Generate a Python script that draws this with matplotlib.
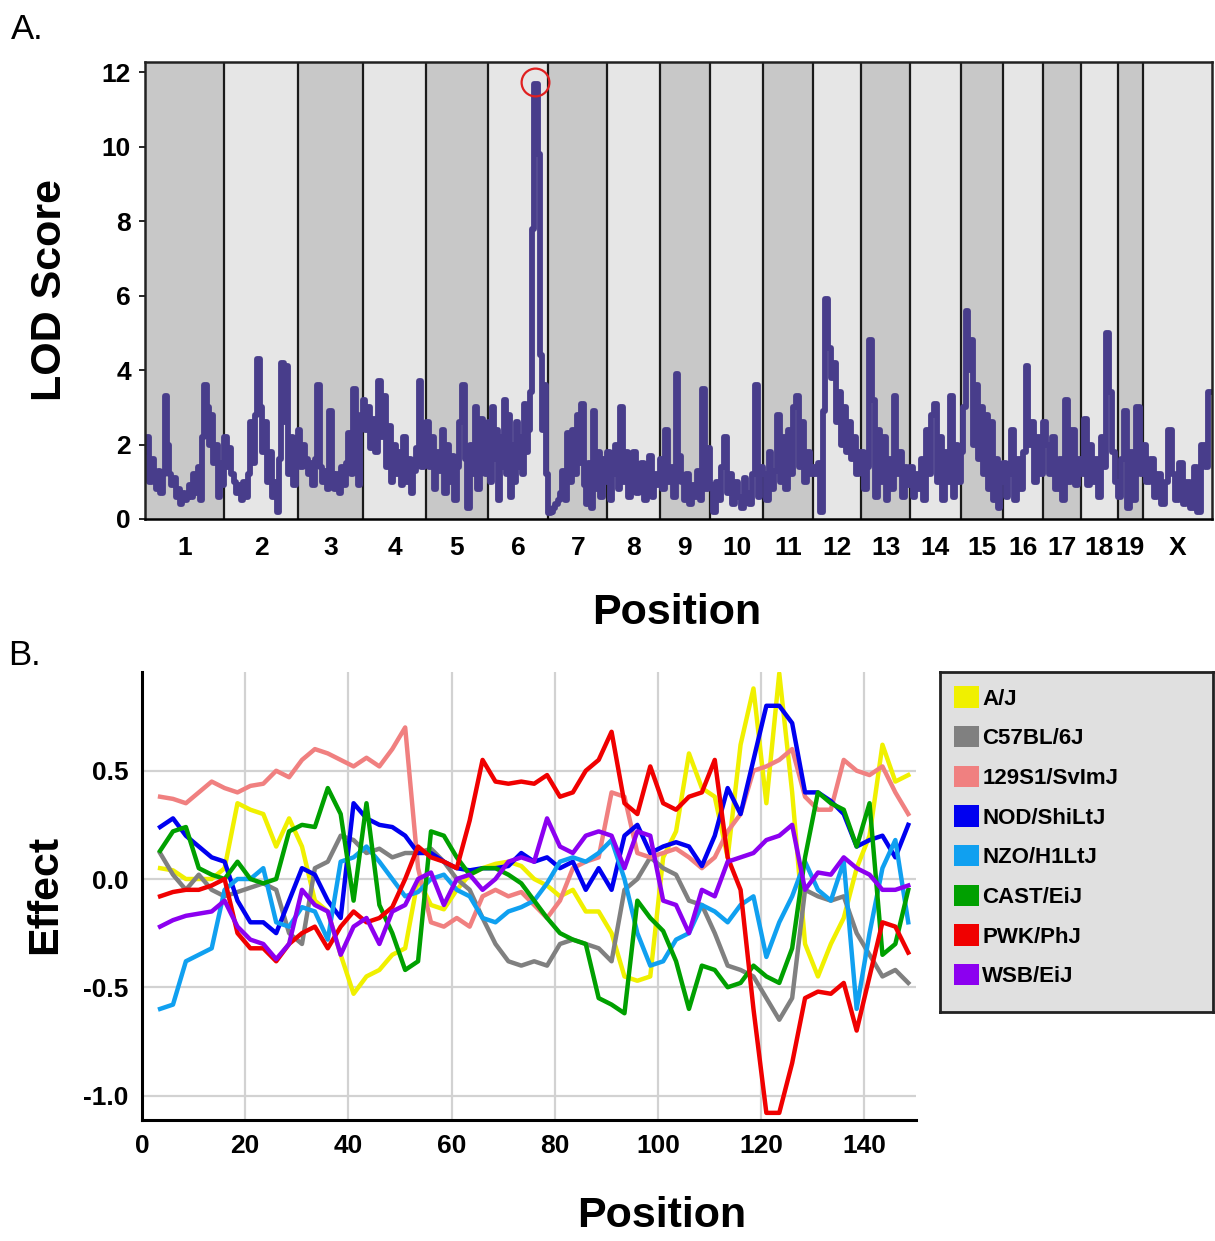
import numpy as np
import matplotlib
matplotlib.use("Agg")
import matplotlib.pyplot as plt
from matplotlib.patches import Patch

plt.rcParams['font.family'] = ['Liberation Sans', 'DejaVu Sans']

# ---- panel A: genome scan ----
chrom_names = ["1", "2", "3", "4", "5", "6", "7", "8", "9", "10",
               "11", "12", "13", "14", "15", "16", "17", "18", "19", "X"]
# chromosome lengths (Mb)
chrom_len = [195.5, 182.1, 160.0, 156.5, 151.8, 149.7, 145.4, 129.4, 124.6, 130.7,
             122.1, 120.1, 120.4, 124.9, 104.0, 98.2, 95.0, 90.7, 61.4, 171.0]

# LOD values along each chromosome
lod = [
    [1.8, 2.2, 1.0, 1.6, 1.2, 0.8, 1.3, 0.7, 1.2, 3.3, 2.0, 1.2, 0.9, 1.1, 0.6, 0.8, 0.4, 0.7,
     0.5, 0.6, 0.9, 0.6, 1.2, 0.7, 1.4, 0.5, 2.2, 3.6, 3.0, 2.0, 2.8, 1.5, 2.0, 0.6, 1.5, 0.9],
    [2.2, 1.4, 1.9, 1.2, 1.0, 0.7, 0.9, 0.5, 1.0, 0.6, 1.2, 2.6, 1.5, 2.8, 4.3, 3.0, 1.8, 2.6,
     1.0, 1.8, 0.6, 1.0, 0.2, 1.6, 4.2, 2.6, 4.1, 1.2, 2.2, 0.9, 1.6],
    [2.4, 1.4, 2.0, 1.6, 1.2, 1.5, 0.9, 1.6, 3.6, 1.4, 1.0, 1.3, 0.8, 2.9, 1.2, 0.8, 1.2, 0.7,
     1.4, 0.9, 1.5, 2.3, 1.2, 3.5, 2.0, 0.9, 2.8],
    [3.2, 2.4, 3.0, 1.9, 2.7, 1.8, 3.7, 2.2, 3.3, 1.4, 2.5, 1.0, 2.0, 1.2, 1.8, 0.9, 2.2, 1.0,
     1.6, 0.7, 1.3, 1.9, 3.7, 1.4, 2.0],
    [2.6, 1.4, 2.2, 0.8, 1.8, 1.3, 2.4, 0.7, 2.0, 1.0, 1.7, 0.5, 1.4, 2.6, 3.6, 1.6, 0.3, 2.0,
     1.2, 3.0, 0.8, 2.7, 1.5, 1.2],
    [2.6, 1.0, 3.0, 1.6, 2.4, 0.5, 2.2, 1.4, 3.2, 1.2, 2.8, 0.6, 2.0, 1.0, 2.6, 1.4, 2.2, 1.2,
     3.1, 1.8, 2.4, 3.4, 7.8, 11.7, 11.7, 9.8, 4.4, 2.4, 3.6, 1.2],
    [0.15, 0.2, 0.3, 0.4, 0.5, 0.7, 1.3, 0.5, 2.3, 1.0, 2.4, 1.2, 2.8, 1.5, 3.1, 0.9, 0.4, 1.5,
     0.3, 2.9, 0.8, 1.8, 0.6, 1.6, 1.0],
    [1.8, 0.5, 1.2, 2.0, 0.8, 3.0, 1.0, 1.8, 0.6, 1.2, 1.8, 0.7, 1.0, 1.5, 0.5, 1.3, 1.7, 0.6,
     1.2, 0.9],
    [1.6, 0.8, 2.4, 1.0, 1.4, 0.6, 3.9, 1.7, 1.0, 0.5, 1.2, 0.4, 0.9, 0.6, 1.3, 0.5, 3.5, 0.8, 1.9],
    [0.9, 0.2, 1.0, 0.5, 1.4, 2.2, 0.7, 1.2, 0.4, 1.0, 0.6, 0.3, 1.1, 0.7, 0.4, 1.2, 3.6, 0.6, 1.4],
    [1.2, 0.5, 1.8, 0.8, 1.3, 2.8, 1.0, 2.2, 0.8, 2.4, 1.2, 3.0, 3.3, 1.4, 2.6, 1.0, 1.8, 1.2],
    [1.4, 1.2, 1.5, 0.2, 2.9, 5.9, 4.6, 3.8, 4.2, 2.6, 3.4, 2.0, 3.0, 1.8, 2.6, 1.6, 2.2, 1.2, 1.8],
    [1.8, 0.8, 1.4, 4.8, 3.2, 0.6, 2.4, 1.0, 2.2, 0.5, 1.6, 0.8, 3.3, 1.2, 1.8, 0.6, 1.4, 0.9],
    [1.4, 0.6, 1.2, 0.8, 1.6, 0.5, 2.4, 1.2, 2.8, 3.1, 1.0, 2.2, 0.5, 1.8, 1.0, 3.3, 0.6, 2.0, 1.0],
    [1.8, 3.0, 5.6, 4.0, 4.8, 2.0, 3.6, 1.6, 3.0, 1.2, 2.8, 0.8, 2.6, 0.5, 1.6, 0.3, 1.0],
    [1.5, 0.6, 1.2, 2.4, 0.5, 1.6, 0.8, 1.8, 4.1, 2.0, 2.6, 1.0, 2.2, 1.2],
    [2.6, 2.0, 1.2, 2.2, 0.8, 1.6, 0.5, 3.2, 1.0, 2.4, 0.9, 1.6],
    [1.2, 2.7, 0.9, 2.0, 1.0, 1.6, 0.6, 2.2, 1.4, 5.0, 3.4, 1.8, 1.0],
    [0.6, 1.6, 2.9, 0.3, 1.8, 0.5, 3.0, 1.2],
    [2.0, 1.0, 1.6, 0.6, 1.2, 0.4, 1.0, 2.4, 1.2, 0.5, 1.5, 0.4, 1.0, 0.3, 1.4, 0.2, 2.0, 1.4, 3.4],
]

# ---- panel B: founder effects on chr 6 ----
pos_b = np.linspace(3.5, 148.5, 59)
strains = ["A/J", "C57BL/6J", "129S1/SvImJ", "NOD/ShiLtJ",
           "NZO/H1LtJ", "CAST/EiJ", "PWK/PhJ", "WSB/EiJ"]
strain_colors = ["#f0f000", "#808080", "#f08080", "#0000f0",
                 "#10a0f0", "#00a000", "#f00000", "#8c00f0"]

eff_aj = [0.05, 0.04, 0.00, 0.00, 0.00, 0.05, 0.35, 0.32, 0.30, 0.15, 0.28, 0.15, -0.10, -0.15,
          -0.35, -0.53, -0.45, -0.42, -0.35, -0.32, 0.00, -0.12, -0.14, -0.05, 0.02, 0.05, 0.07,
          0.08, 0.06, 0.00, -0.03, -0.08, -0.05, -0.15, -0.15, -0.25, -0.45, -0.47, -0.45, 0.10,
          0.22, 0.58, 0.42, 0.38, 0.10, 0.62, 0.88, 0.35, 0.95, 0.40, -0.30, -0.45, -0.30, -0.18,
          0.05, 0.20, 0.62, 0.45, 0.48]
eff_b6 = [0.12, 0.02, -0.05, 0.02, -0.05, -0.08, -0.06, -0.04, -0.02, -0.05, -0.25, -0.30, 0.05,
          0.08, 0.20, 0.18, 0.12, 0.14, 0.10, 0.12, 0.12, 0.14, 0.08, 0.00, -0.05, -0.18, -0.30,
          -0.38, -0.40, -0.38, -0.40, -0.30, -0.28, -0.30, -0.32, -0.38, -0.05, 0.00, 0.10, 0.05,
          0.02, -0.10, -0.12, -0.25, -0.40, -0.42, -0.45, -0.55, -0.65, -0.55, -0.05, -0.08, -0.10,
          -0.08, -0.25, -0.35, -0.45, -0.42, -0.48]
eff_129 = [0.38, 0.37, 0.35, 0.40, 0.45, 0.42, 0.40, 0.43, 0.44, 0.50, 0.47, 0.55, 0.60, 0.58,
           0.55, 0.52, 0.56, 0.52, 0.60, 0.70, 0.05, -0.20, -0.22, -0.18, -0.22, -0.08, -0.05,
           -0.08, -0.06, -0.12, -0.18, -0.10, 0.05, 0.08, 0.10, 0.40, 0.38, 0.12, 0.10, 0.12, 0.14,
           0.10, 0.05, 0.10, 0.22, 0.30, 0.50, 0.52, 0.55, 0.60, 0.38, 0.32, 0.32, 0.55, 0.50, 0.48,
           0.52, 0.40, 0.30]
eff_nod = [0.24, 0.28, 0.20, 0.15, 0.10, 0.08, -0.10, -0.20, -0.20, -0.25, -0.10, 0.05, 0.02,
           -0.10, -0.18, 0.35, 0.28, 0.25, 0.24, 0.20, 0.12, 0.12, 0.08, 0.05, 0.04, 0.05, 0.05,
           0.06, 0.12, 0.08, 0.10, 0.05, 0.08, -0.05, 0.05, -0.05, 0.20, 0.25, 0.12, 0.15, 0.17,
           0.15, 0.06, 0.20, 0.42, 0.30, 0.55, 0.80, 0.80, 0.72, 0.40, 0.40, 0.36, 0.30, 0.15, 0.18,
           0.20, 0.10, 0.25]
eff_nzo = [-0.60, -0.58, -0.38, -0.35, -0.32, -0.05, 0.00, 0.00, 0.05, -0.20, -0.22, -0.13, -0.15,
           -0.28, 0.08, 0.10, 0.15, 0.08, 0.00, -0.08, -0.06, 0.00, 0.02, -0.05, -0.08, -0.18,
           -0.20, -0.15, -0.13, -0.10, -0.02, 0.08, 0.10, 0.08, 0.12, 0.18, 0.00, -0.25, -0.40,
           -0.38, -0.28, -0.25, -0.12, -0.15, -0.20, -0.12, -0.08, -0.36, -0.20, -0.08, 0.08, -0.05,
           -0.10, 0.08, -0.60, -0.25, 0.05, 0.18, -0.20]
eff_cast = [0.13, 0.22, 0.24, 0.05, 0.02, 0.00, 0.08, 0.00, -0.02, 0.00, 0.22, 0.25, 0.24, 0.42,
            0.30, -0.10, 0.35, -0.12, -0.25, -0.42, -0.38, 0.22, 0.20, 0.10, 0.02, 0.05, 0.05,
            0.02, -0.02, -0.10, -0.18, -0.25, -0.28, -0.30, -0.55, -0.58, -0.62, -0.10, -0.18,
            -0.24, -0.38, -0.60, -0.40, -0.42, -0.50, -0.48, -0.40, -0.45, -0.48, -0.32, 0.10, 0.40,
            0.35, 0.32, 0.15, 0.35, -0.35, -0.30, -0.05]
eff_pwk = [-0.08, -0.06, -0.05, -0.05, -0.03, 0.00, -0.25, -0.32, -0.32, -0.38, -0.30, -0.25,
           -0.22, -0.32, -0.22, -0.15, -0.20, -0.18, -0.13, 0.00, 0.15, 0.10, 0.08, 0.05, 0.27,
           0.55, 0.45, 0.44, 0.45, 0.44, 0.48, 0.38, 0.40, 0.50, 0.55, 0.68, 0.35, 0.30, 0.52, 0.35,
           0.32, 0.38, 0.40, 0.55, 0.10, -0.05, -0.60, -1.08, -1.08, -0.85, -0.55, -0.52, -0.53,
           -0.48, -0.70, -0.45, -0.20, -0.22, -0.34]
eff_wsb = [-0.22, -0.19, -0.17, -0.16, -0.15, -0.10, -0.22, -0.28, -0.30, -0.37, -0.30, -0.05,
           -0.12, -0.15, -0.35, -0.22, -0.18, -0.30, -0.15, -0.12, 0.00, 0.03, -0.12, 0.00, 0.02,
           -0.05, 0.00, 0.08, 0.10, 0.08, 0.28, 0.15, 0.12, 0.20, 0.22, 0.20, 0.05, 0.22, 0.20,
           -0.10, -0.12, -0.25, -0.05, -0.08, 0.08, 0.10, 0.12, 0.18, 0.20, 0.25, -0.05, 0.03, 0.02,
           0.10, 0.05, 0.02, -0.05, -0.05, -0.03]
effects = [eff_aj, eff_b6, eff_129, eff_nod, eff_nzo, eff_cast, eff_pwk, eff_wsb]

fig = plt.figure(figsize=(12.15, 12.41), dpi=100)

# ---------------- panel A ----------------
axA = fig.add_axes([0.1193, 0.5818, 0.8782, 0.3682])
starts = np.concatenate([[0], np.cumsum(chrom_len)[:-1]])
total = float(np.sum(chrom_len))

xs, ys = [], []
for st, ln, vals in zip(starts, chrom_len, lod):
    n = len(vals)
    for i, v in enumerate(vals):
        xs.append(st + (i + 0.5) * ln / n)
        ys.append(v)

for i, (st, ln) in enumerate(zip(starts, chrom_len)):
    axA.axvspan(st, st + ln, color='#c8c8c8' if i % 2 == 0 else '#e6e6e6', lw=0, zorder=0)
    if i > 0:
        axA.axvline(st, color='#1a1a1a', lw=1.6, zorder=1)

axA.plot(xs, ys, drawstyle='steps-mid', color='#483d8b', lw=4.2, zorder=2)

# circle around the peak
peak = int(np.argmax(ys))
axA.plot(xs[peak], 11.75, marker='o', ms=20, mfc='none', mec='#e02020', mew=1.6, zorder=3)

axA.set_xlim(0, total)
axA.set_ylim(0, 12.28)
axA.set_yticks([0, 2, 4, 6, 8, 10, 12])
axA.set_yticklabels(['0', '2', '4', '6', '8', '10', '12'], fontsize=19, fontweight='bold')
axA.set_xticks(starts + np.array(chrom_len) / 2)
axA.set_xticklabels(chrom_names, fontsize=19, fontweight='bold')
axA.tick_params(axis='x', length=0, pad=12)
axA.tick_params(axis='y', length=4, width=1.2, pad=6)
for s in axA.spines.values():
    s.set_linewidth(1.8)
    s.set_color('#222222')
axA.spines['bottom'].set_color('black')

fig.text(0.041, 0.766, 'LOD Score', rotation=90, ha='center', va='center',
         fontsize=31, fontweight='bold')
fig.text(0.557, 0.506, 'Position', ha='center', va='center', fontsize=31, fontweight='bold')
fig.text(0.009, 0.976, 'A.', ha='left', va='center', fontsize=25)

# ---------------- panel B ----------------
axB = fig.add_axes([0.1169, 0.0975, 0.6370, 0.3610])
for name, col, vals in zip(strains, strain_colors, effects):
    axB.plot(pos_b, vals, color=col, lw=3.2, label=name)

axB.set_xlim(0, 150)
axB.set_ylim(-1.113, 0.956)
axB.set_xticks([0, 20, 40, 60, 80, 100, 120, 140])
axB.set_xticklabels(['0', '20', '40', '60', '80', '100', '120', '140'],
                    fontsize=19, fontweight='bold')
axB.set_yticks([-1.0, -0.5, 0.0, 0.5])
axB.set_yticklabels(['-1.0', '-0.5', '0.0', '0.5'], fontsize=19, fontweight='bold')
axB.tick_params(length=0, pad=10)
axB.grid(True, color='#d2d2d2', lw=1.6)
axB.set_axisbelow(True)
axB.spines['top'].set_visible(False)
axB.spines['right'].set_visible(False)
axB.spines['left'].set_linewidth(2.2)
axB.spines['bottom'].set_linewidth(2.2)

fig.text(0.037, 0.279, 'Effect', rotation=90, ha='center', va='center',
         fontsize=31, fontweight='bold')
fig.text(0.545, 0.020, 'Position', ha='center', va='center', fontsize=31, fontweight='bold')
fig.text(0.007, 0.472, 'B.', ha='left', va='center', fontsize=25)

# legend box
axL = fig.add_axes([0.7737, 0.1845, 0.2247, 0.2740])
axL.set_facecolor('#e0e0e0')
axL.set_xticks([])
axL.set_yticks([])
for s in axL.spines.values():
    s.set_linewidth(2)
    s.set_color('#222222')
handles = [Patch(facecolor=c, edgecolor='none') for c in strain_colors]
axL.legend(handles, strains, loc='upper left', bbox_to_anchor=(0, 1), frameon=False,
           prop={'weight': 'bold', 'size': 16}, handlelength=1.1, handleheight=1.1,
           handletextpad=0.15, labelspacing=0.74, borderpad=0, borderaxespad=0.65)

fig.savefig('out.png', dpi=100)
